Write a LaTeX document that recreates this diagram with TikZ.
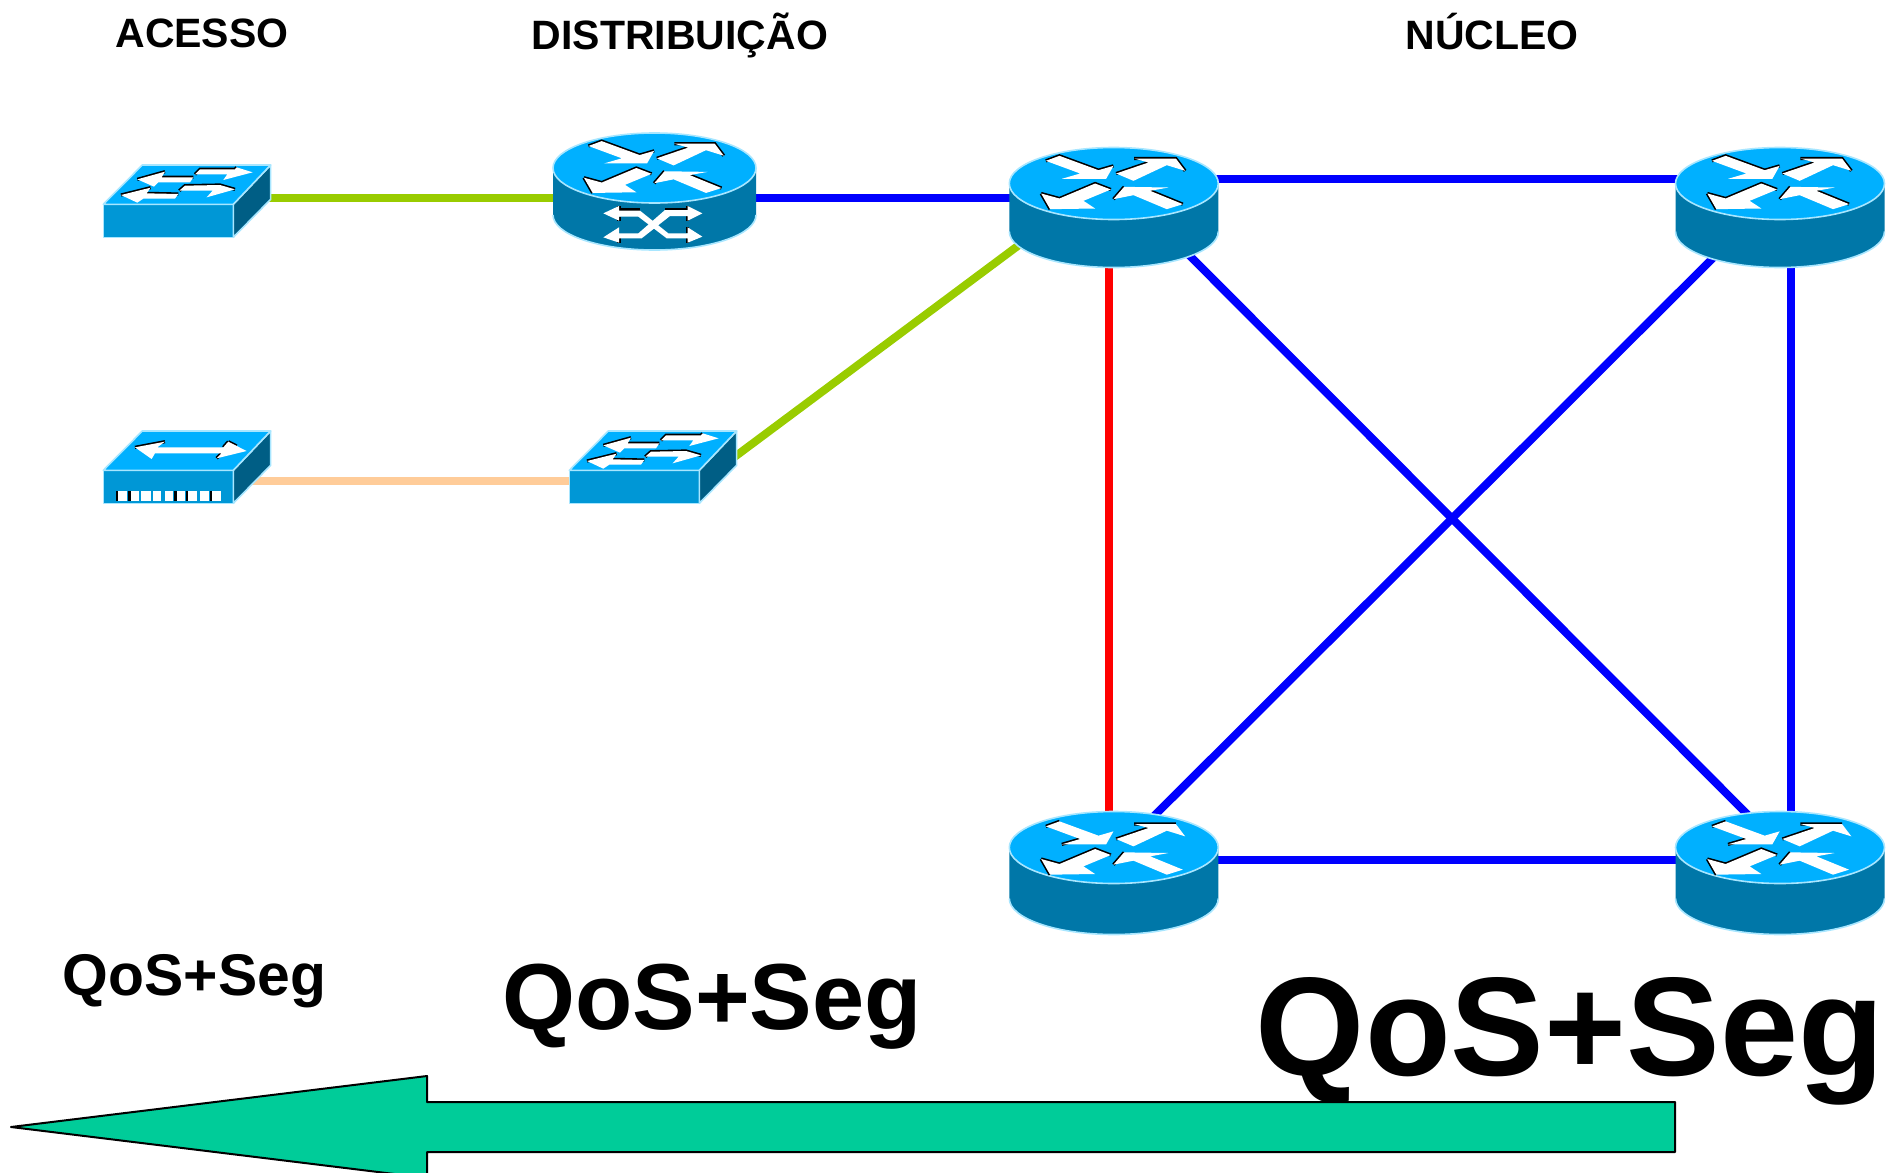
\documentclass[tikz,border=0pt]{standalone}
\usepackage{fontspec}
\setmainfont{Liberation Sans}
\definecolor{topblue}{HTML}{00B0FF}
\definecolor{frontblue}{HTML}{0097D6}
\definecolor{sideblue}{HTML}{005E85}
\definecolor{barrel}{HTML}{0077A8}
\definecolor{rim}{HTML}{A8E6FF}
\definecolor{linkblue}{HTML}{0000FF}
\definecolor{linkred}{HTML}{FF0000}
\definecolor{linkgreen}{HTML}{99CC00}
\definecolor{linkpeach}{HTML}{FFCC99}
\definecolor{sea}{HTML}{00CC99}
\tikzset{
  link/.style={line width=4pt},
  device/.style={inner sep=0pt,outer sep=0pt,minimum width=#1},
  rimline/.style={draw=rim,line width=0.8pt,line join=round},
  glyph/.style={fill=white},
  edge/.style={draw=black,line width=1.6pt,line cap=butt,line join=miter},
  title/.style={font=\fontsize{20.5}{24}\bfseries\selectfont,anchor=base,inner sep=0pt},
  qos/.style={anchor=base,inner sep=0pt},
}
\newcommand{\routeredgesA}{%
  \draw[edge] (137,92)--(178,77)--(295,120)--(340,107);
  \draw[edge] (348,130)--(445,97) (402,85)--(527,85)--(555,122);
  \draw[edge] (123,190)--(150,237) (123,190)--(178,205)--(285,160)--(332,178);
  \draw[edge] (450,182)--(548,222) (340,207)--(372,170);
}
\newcommand{\routeredgesB}{%
  \draw[edge] (137,92)--(178,77);
  \draw[edge] (185,146)--(240,130);
  \draw[edge] (348,130)--(445,97) (402,85)--(527,85);
  \draw[edge] (123,190)--(150,237) (123,190)--(178,205)--(285,160)--(332,178);
  \draw[edge] (340,207)--(372,170);
}
\newcommand{\routerglyphs}{%
  \fill[glyph] (137,92)--(178,77)--(295,120)--(340,107)--(318,146)--(185,146)--(240,130)--cycle;
  \fill[glyph] (348,130)--(445,97)--(402,85)--(527,85)--(555,122)--(500,105)--(400,152)--cycle;
  \fill[glyph] (123,190)--(178,205)--(285,160)--(332,178)--(250,212)--(285,235)--(150,237)--cycle;
  \fill[glyph] (340,207)--(372,170)--(505,172)--(450,182)--(548,222)--(500,237)--(400,195)--cycle;
}
% cx cy rx ry delta glyph-shift edges
\newcommand{\routericon}[7]{%
  \begin{scope}[shift={(#1,#2)}]
    \fill[barrel] (-#3,0)--(-#3,#5) arc[start angle=180,end angle=0,x radius=#3,y radius=#4]--(#3,0)--cycle;
    \draw[rimline] (-#3,#5) arc[start angle=180,end angle=0,x radius=#3,y radius=#4];
    \draw[rimline,fill=topblue] (0,0) ellipse[x radius=#3,y radius=#4];
    \pgfmathsetmacro{\glyphscale}{#3/104.5/3}
    \begin{scope}[yshift=#6,scale=\glyphscale,shift={(-341,-160)}]
      #7
      \routerglyphs
    \end{scope}
  \end{scope}}
\newcommand{\switchbody}[2]{%
  \begin{scope}[shift={(#1,#2)},scale=1/3]
    \draw[rimline,fill=frontblue] (0,118) rectangle (390,217);
    \draw[rimline,fill=sideblue] (390,118)--(502,0)--(502,103)--(390,217)--cycle;
    \draw[rimline,fill=topblue] (0,118)--(117,0)--(502,0)--(390,118)--cycle;
  \end{scope}}
\newcommand{\switchfourarrows}[2]{%
  \begin{scope}[shift={(#1,#2)},scale=1/3,shift={(-70,-135)}]
    \draw[edge] (172,178)--(255,155) (245,172)--(340,172);
    \draw[edge] (345,163)--(360,148)--(465,148)--(470,142);
    \draw[edge] (123,225)--(212,203) (200,220)--(295,222);
    \draw[edge] (298,212)--(315,197)--(420,195)--(465,208);
    \fill[glyph] (172,178)--(255,155)--(245,172)--(340,172)--(330,187)--(235,187)--(222,200)--cycle;
    \fill[glyph] (345,163)--(360,148)--(465,148)--(470,142)--(518,157)--(430,180)--(442,163)--cycle;
    \fill[glyph] (123,225)--(212,203)--(200,220)--(295,222)--(285,236)--(190,236)--(172,248)--cycle;
    \fill[glyph] (298,212)--(315,197)--(420,195)--(465,208)--(380,232)--(398,212)--cycle;
  \end{scope}}
\begin{document}
\begin{tikzpicture}[x=0.5pt,y=-0.5pt]
\useasboundingbox (0,0) rectangle (1902,1173);
% device footprints
\node[device=104.5pt,minimum height=59.5pt] (tl) at (1113.8,207.5) {};
\node[device=104.5pt,minimum height=59.5pt] (tr) at (1780,207.5) {};
\node[device=104.5pt,minimum height=61pt] (bl) at (1113.8,873) {};
\node[device=104.5pt,minimum height=61pt] (br) at (1780,873) {};
\node[device=101.5pt,minimum height=58.5pt] (dist) at (654.5,191.5) {};
\node[device=84pt,minimum height=36pt] (sw1) at (187,201) {};
\node[device=84pt,minimum height=36pt] (sw2) at (653,467) {};
\node[device=84pt,minimum height=36pt] (sw3) at (187,467) {};
% connectors
\draw[link,linkgreen] ([yshift=1.5pt]sw1.center) -- ([yshift=-3.25pt]dist.center);
\draw[link,linkblue] ([yshift=-3.25pt]dist.center) -- ([yshift=4.75pt]tl.center);
\draw[link,linkpeach] ([yshift=-6.85pt]sw3.center) -- ([yshift=-6.85pt]sw2.center);
\draw[link,linkgreen] ([xshift=32pt,yshift=-1.5pt]sw2.center) -- ([xshift=-34.4pt,yshift=-9.1pt]tl.center);
\draw[link,linkblue] ([yshift=14.5pt]tl.center) -- ([yshift=14.5pt]tr.center);
\draw[link,linkblue] ([yshift=6.5pt]bl.center) -- ([yshift=6.5pt]br.center);
\draw[link,linkred] ([xshift=-2.4pt]tl.center) -- ([xshift=-2.4pt]bl.center);
\draw[link,linkblue] ([xshift=5.5pt]tr.center) -- ([xshift=5.5pt]br.center);
\draw[link,linkblue] ([xshift=18.1pt,yshift=-4.25pt]tl.center) -- ([xshift=-2.5pt,yshift=15.5pt]br.center);
\draw[link,linkblue] ([xshift=-15pt,yshift=-6.75pt]tr.center) -- ([xshift=6.6pt,yshift=15pt]bl.center);
% routers
\routericon{1113.8}{183.5}{104.5}{36}{48}{0pt}{\routeredgesA}
\routericon{1780}{183.5}{104.5}{36}{48}{0pt}{\routeredgesA}
\routericon{1113.8}{847.5}{104.5}{36}{51}{-0.75pt}{\routeredgesB}
\routericon{1780}{847.5}{104.5}{36}{51}{-0.75pt}{\routeredgesB}
\routericon{654.5}{168}{101.5}{35}{47}{0pt}{\routeredgesA}
% cross symbol of the distribution router
\begin{scope}[shift={(540,120)},scale=1/3]
  \draw[edge] (237,258)--(237,272) (237,290)--(237,302) (237,355)--(237,368) (443,258)--(443,272) (443,288)--(443,302) (443,340)--(443,322) (443,355)--(443,368);
  \draw[edge] (237,270)--(300,270) (375,270)--(443,270);
  \fill[glyph] (190,280)--(237,258)--(237,272)--(300,272)--(385,340)--(443,340)--(443,322)--(487,350)--(443,368)--(443,355)--(380,355)--(295,290)--(237,290)--(237,302)--cycle;
  \fill[glyph] (190,352)--(237,322)--(237,340)--(295,340)--(375,270)--(443,270)--(443,258)--(487,280)--(443,302)--(443,288)--(390,288)--(305,355)--(237,355)--(237,368)--cycle;
\end{scope}
% switches
\switchbody{103.3}{165}
\switchfourarrows{103.3}{165}
\switchbody{569.3}{431}
\switchfourarrows{569.3}{431}
\switchbody{103.3}{431}
\begin{scope}[shift={(103.3,431)},scale=1/3,shift={(-70,-933)}]
  \draw[edge] (165,982)--(255,965) (445,965)--(470,978) (445,965)--(430,982) (410,1015)--(425,1000);
  \fill[glyph] (165,982)--(255,965)--(232,982)--(430,982)--(445,965)--(500,993)--(410,1015)--(425,1000)--(225,1000)--(215,1017)--cycle;
  \foreach \a in {113,150,287,323,395}
    \draw[edge] (\a,1113)--(\a,1143);
  \foreach \a/\b in {115/142,152/178,183/213,218/243,255/280,290/316,325/352,360/387,397/423}
    \fill[glyph] (\a,1113) rectangle (\b,1143);
\end{scope}
% labels
\node[title] (acesso) at (202,47) {ACESSO};
\node[title] (distrib) at (680,49) {DISTRIBUIÇÃO};
\node[title] (nucleo) at (1492,49) {NÚCLEO};
\node[qos,font=\fontsize{29.4}{34}\bfseries\selectfont] (q1) at (194.5,995) {QoS+Seg};
\node[qos,font=\fontsize{46.9}{54}\bfseries\selectfont] (q2) at (712,1029) {QoS+Seg};
\node[qos,font=\fontsize{70.2}{80}\bfseries\selectfont] (q3) at (1570,1075) {QoS+Seg};
% arrow
\begin{scope}
  \clip (0,0) rectangle (1902,1173);
  \draw[fill=sea,draw=black,line width=1pt,line join=round] (11,1127)--(427,1076)--(427,1102)--(1675,1102)--(1675,1152)--(427,1152)--(427,1178)--cycle;
\end{scope}
\end{tikzpicture}
\end{document}
